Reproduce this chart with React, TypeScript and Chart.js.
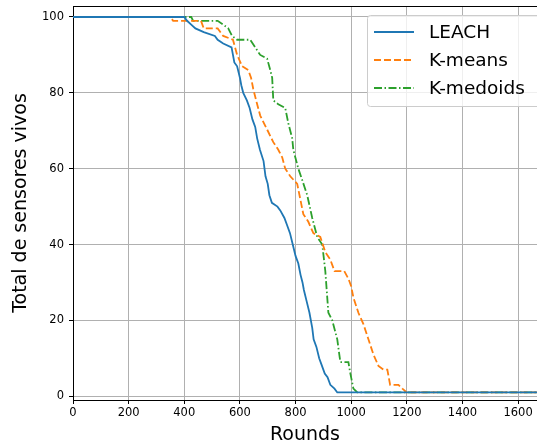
import React, { useEffect, useRef } from "react";
import { Chart, registerables } from "chart.js";

Chart.register(...registerables);

const X_TICKS = [0, 200, 400, 600, 800, 1000, 1200, 1400, 1600];
const Y_TICKS = [0, 20, 40, 60, 80, 100];

const LEACH_X = [0, 400, 410, 425, 440, 470, 510, 520, 540, 570, 575, 580, 590, 600, 605, 612, 625, 635, 645, 655, 662, 672, 685, 692, 700, 706, 715, 735, 745, 760, 770, 780, 790, 800, 810, 818, 825, 830, 840, 850, 860, 865, 875, 885, 895, 905, 915, 925, 940, 950, 1670];
const LEACH_Y = [100, 100, 99, 98, 97, 96, 95, 94, 93, 92, 90, 88, 87, 84, 82, 80, 78, 76, 73, 71, 68, 65, 62, 58, 56, 53, 51, 50, 49, 47, 45, 43, 40, 37, 35, 32, 30, 28, 25, 22, 18, 15, 13, 10, 8, 6, 5, 3, 2, 1, 1];

const KMEANS_X = [0, 350, 360, 460, 470, 520, 540, 575, 590, 608, 630, 640, 648, 662, 673, 700, 720, 738, 752, 763, 781, 806, 817, 828, 846, 864, 889, 907, 925, 940, 975, 990, 1000, 1008, 1026, 1044, 1062, 1080, 1098, 1116, 1130, 1140, 1170, 1184, 1200, 1670];
const KMEANS_Y = [100, 100, 99, 99, 97, 97, 95, 94, 90, 87, 86, 84, 81, 77, 74, 70, 67, 65, 63, 60, 58, 56, 52, 48, 46, 43, 42, 38, 36, 33, 33, 31, 29, 26, 22, 19, 15, 11, 8, 7, 7, 3, 3, 2, 1, 1];

const KMEDOIDS_X = [0, 425, 432, 520, 540, 558, 572, 590, 637, 655, 673, 698, 709, 716, 720, 738, 763, 774, 788, 792, 810, 824, 842, 860, 878, 896, 907, 918, 932, 950, 961, 990, 997, 1008, 1022, 1670];
const KMEDOIDS_Y = [100, 100, 99, 99, 98, 97, 95, 94, 94, 92, 90, 89, 86, 84, 78, 77, 76, 72, 68, 65, 60, 57, 53, 47, 42, 40, 33, 22, 20, 15, 9, 9, 6, 2, 1, 1];

const FONT = "'DejaVu Sans', sans-serif";

const toPts = (xs: number[], ys: number[]) => xs.map((x, i) => ({ x, y: ys[i] }));

const SERIES = [
  { label: "LEACH", color: "#1f77b4", dash: [] as number[], data: toPts(LEACH_X, LEACH_Y) },
  { label: "K-means", color: "#ff7f0e", dash: [7, 3], data: toPts(KMEANS_X, KMEANS_Y) },
  { label: "K-medoids", color: "#2ca02c", dash: [8, 2.5, 1.5, 2.5], data: toPts(KMEDOIDS_X, KMEDOIDS_Y) },
];

const legendPlugin = {
  id: "mplLegend",
  afterDraw(chart: any) {
    const ctx = chart.ctx;
    const area = chart.chartArea;
    ctx.save();
    ctx.strokeStyle = "#000";
    ctx.lineWidth = 1;
    ctx.beginPath();
    ctx.moveTo(area.left, area.top + 0.5);
    ctx.lineTo(area.right, area.top + 0.5);
    ctx.stroke();
    const bx = 367.5, by = 15.5, bw = 190, bh = 91, r = 3;
    ctx.beginPath();
    ctx.moveTo(bx + r, by);
    ctx.lineTo(bx + bw, by);
    ctx.lineTo(bx + bw, by + bh);
    ctx.lineTo(bx + r, by + bh);
    ctx.arcTo(bx, by + bh, bx, by + bh - r, r);
    ctx.lineTo(bx, by + r);
    ctx.arcTo(bx, by, bx + r, by, r);
    ctx.closePath();
    ctx.fillStyle = "rgba(255,255,255,0.8)";
    ctx.fill();
    ctx.strokeStyle = "#cccccc";
    ctx.lineWidth = 1;
    ctx.stroke();
    const rows = [32, 60, 88];
    SERIES.forEach((s, i) => {
      const y = rows[i];
      ctx.beginPath();
      ctx.setLineDash(s.dash);
      ctx.strokeStyle = s.color;
      ctx.lineWidth = 1.8;
      ctx.moveTo(374, y);
      ctx.lineTo(414, y);
      ctx.stroke();
      ctx.setLineDash([]);
      ctx.fillStyle = "#000";
      ctx.font = `18.5px ${FONT}`;
      ctx.textBaseline = "middle";
      ctx.textAlign = "left";
      ctx.fillText(s.label, 429, y + 1);
    });
    ctx.restore();
  },
};

export default function App() {
  const ref = useRef<HTMLCanvasElement | null>(null);

  useEffect(() => {
    document.body.style.margin = "0";
    if (!ref.current) return;
    const chart = new Chart(ref.current, {
      type: "line",
      data: {
        datasets: SERIES.map((s) => ({
          label: s.label,
          data: s.data,
          borderColor: s.color,
          backgroundColor: s.color,
          borderDash: s.dash,
          borderWidth: 1.8,
          pointRadius: 0,
          fill: false,
          tension: 0,
        })),
      },
      options: {
        responsive: false,
        animation: false,
        maintainAspectRatio: false,
        layout: { padding: { left: 0, right: 0, top: 6, bottom: 0 } },
        plugins: {
          legend: { display: false },
          tooltip: { enabled: false },
        },
        scales: {
          x: {
            type: "linear",
            min: 0,
            max: 1668,
            afterBuildTicks: (scale: any) => {
              scale.ticks = X_TICKS.map((v) => ({ value: v }));
            },
            afterFit: (scale: any) => {
              scale.height = 46;
              scale.paddingLeft = 0;
              scale.paddingRight = 0;
            },
            ticks: {
              font: { family: FONT, size: 11.5 },
              color: "#000",
              padding: 2,
              maxRotation: 0,
              autoSkip: false,
              callback: (v: any) => String(v),
            },
            grid: {
              color: "#b0b0b0",
              lineWidth: 1,
              tickLength: 4,
              tickColor: "#000",
            },
            border: { display: true, color: "#000", width: 1 },
            title: {
              display: true,
              text: "Rounds",
              font: { family: FONT, size: 19 },
              color: "#000",
              padding: { top: 0, bottom: 0 },
            },
          },
          y: {
            type: "linear",
            min: -1,
            max: 102.9,
            afterBuildTicks: (scale: any) => {
              scale.ticks = Y_TICKS.map((v) => ({ value: v }));
            },
            afterFit: (scale: any) => {
              scale.width = 73;
              scale.paddingTop = 0;
              scale.paddingBottom = 0;
            },
            ticks: {
              font: { family: FONT, size: 11.5 },
              color: "#000",
              padding: 5,
              autoSkip: false,
              callback: (v: any) => String(v),
            },
            grid: {
              color: "#b0b0b0",
              lineWidth: 1,
              tickLength: 4,
              tickColor: "#000",
            },
            border: { display: true, color: "#000", width: 1 },
            title: {
              display: true,
              text: "Total de sensores vivos",
              font: { family: FONT, size: 19 },
              color: "#000",
              padding: { top: 10, bottom: 0 },
            },
          },
        },
      },
      plugins: [legendPlugin],
    });
    return () => chart.destroy();
  }, []);

  return (
    <div style={{ width: 537, height: 446, position: "relative" }}>
      <canvas ref={ref} width={537} height={446} style={{ display: "block" }} />
    </div>
  );
}
